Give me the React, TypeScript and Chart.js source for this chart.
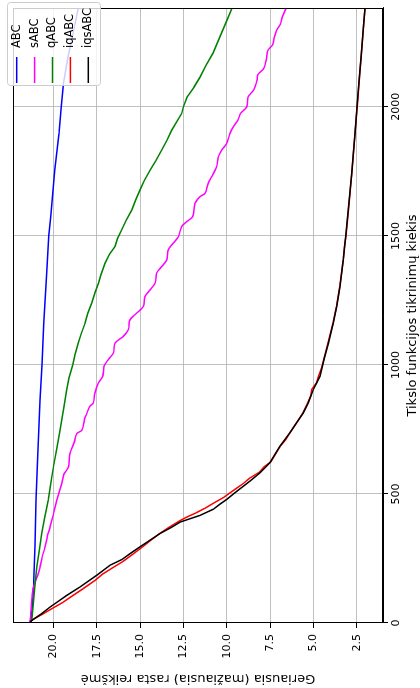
import React, { useEffect, useRef } from "react";
import { Chart, registerables } from "chart.js";

Chart.register(...registerables);

const FONT = "DejaVu Sans";

const seriesLabels = ["ABC", "sABC", "qABC", "iqABC", "iqsABC"];
const seriesColors = ["#0000ff", "#ff00ff", "#008000", "#ff0000", "#000000"];

const xTicks = [0, 500, 1000, 1500, 2000];
const yTicks = [2.5, 5, 7.5, 10, 12.5, 15, 17.5, 20];
const xLabel = "Tikslo funkcijos tikrinimų kiekis";
const yLabel = "Geriausia (mažiausia) rasta reikšmė";

const abcEvals = [0, 20, 60, 138, 300, 476, 650, 863, 1000, 1162, 1343, 1500, 1575, 1755, 1897, 2000, 2092, 2193, 2286, 2383];
const abcValues = [21.36, 21.28, 21.22, 21.15, 21.06, 21.0, 20.9, 20.77, 20.65, 20.55, 20.4, 20.27, 20.15, 19.92, 19.68, 19.55, 19.42, 19.15, 18.86, 18.57];

const sabcEvals = [0, 40, 88, 140, 191, 217, 255, 295, 335, 372, 420, 476, 540, 575, 605, 657, 700, 734, 747, 790, 812, 840, 853, 892, 930, 956, 995, 1021, 1046, 1085, 1111, 1137, 1175, 1201, 1227, 1265, 1291, 1317, 1356, 1381, 1407, 1446, 1472, 1497, 1536, 1555, 1575, 1626, 1652, 1665, 1704, 1729, 1768, 1807, 1832, 1858, 1897, 1923, 1948, 1975, 2000, 2039, 2065, 2103, 2125, 2150, 2181, 2219, 2240, 2270, 2297, 2320, 2350, 2383];
const sabcValues = [21.36, 21.3, 21.25, 21.15, 20.87, 20.77, 20.65, 20.48, 20.35, 20.19, 20.0, 19.8, 19.52, 19.4, 19.13, 19.04, 18.8, 18.65, 18.36, 18.2, 18.07, 17.9, 17.69, 17.6, 17.4, 17.15, 17.08, 16.83, 16.54, 16.44, 15.96, 15.67, 15.58, 15.19, 14.81, 14.71, 14.42, 14.13, 14.04, 13.75, 13.46, 13.37, 13.08, 12.79, 12.6, 12.31, 11.96, 11.83, 11.54, 11.25, 11.06, 10.87, 10.58, 10.48, 10.29, 10.0, 9.81, 9.62, 9.35, 9.2, 8.84, 8.76, 8.45, 8.25, 8.2, 7.85, 7.72, 7.62, 7.35, 7.25, 7.12, 6.9, 6.78, 6.57];

const qabcEvals = [0, 10, 61, 138, 216, 280, 348, 410, 476, 540, 604, 670, 735, 827, 905, 950, 1000, 1040, 1085, 1120, 1162, 1200, 1240, 1280, 1317, 1350, 1394, 1430, 1459, 1490, 1523, 1560, 1600, 1640, 1678, 1715, 1755, 1790, 1832, 1870, 1910, 1940, 1974, 2000, 2037, 2075, 2115, 2160, 2208, 2270, 2336, 2383];
const qabcValues = [21.36, 21.25, 21.18, 21.08, 20.96, 20.82, 20.67, 20.5, 20.29, 20.15, 20.0, 19.82, 19.65, 19.42, 19.23, 19.1, 18.88, 18.75, 18.56, 18.4, 18.17, 18.02, 17.79, 17.6, 17.4, 17.25, 17.02, 16.75, 16.44, 16.3, 16.06, 15.8, 15.48, 15.25, 15.0, 14.75, 14.42, 14.1, 13.75, 13.45, 13.17, 12.9, 12.6, 12.5, 12.29, 11.9, 11.54, 11.2, 10.79, 10.4, 9.98, 9.69];

const iqabcEvals = [0, 12, 35, 59, 80, 101, 130, 165, 190, 211, 240, 265, 295, 320, 350, 370, 396, 412, 428, 445, 464, 486, 518, 540, 560, 585, 605, 625, 655, 686, 710, 737, 776, 814, 853, 880, 905, 930, 956, 990, 1021, 1085, 1162, 1227, 1304, 1407, 1460, 1500, 1601, 1742, 1897, 2000, 2100, 2200, 2300, 2383];
const iqabcValues = [21.36, 21.22, 20.6, 20.0, 19.45, 19.0, 18.35, 17.6, 17.15, 16.65, 15.95, 15.45, 14.85, 14.4, 13.8, 13.35, 12.72, 12.25, 11.73, 11.25, 10.77, 10.19, 9.52, 9.05, 8.7, 8.1, 7.85, 7.45, 7.18, 6.9, 6.6, 6.35, 5.97, 5.6, 5.33, 5.15, 5.1, 4.82, 4.7, 4.52, 4.4, 4.16, 3.87, 3.66, 3.47, 3.28, 3.2, 3.12, 2.97, 2.78, 2.59, 2.47, 2.35, 2.23, 2.12, 2.02];

const iqsabcEvals = [0, 10, 35, 62, 85, 107, 140, 185, 224, 246, 270, 295, 320, 347, 370, 391, 417, 441, 460, 479, 505, 550, 582, 621, 655, 686, 737, 776, 814, 853, 905, 956, 1021, 1085, 1162, 1227, 1304, 1407, 1500, 1601, 1742, 1897, 2000, 2100, 2200, 2300, 2383];
const iqsabcValues = [21.36, 21.25, 20.7, 20.19, 19.7, 19.23, 18.46, 17.5, 16.73, 16.05, 15.55, 15.0, 14.45, 13.84, 13.2, 12.69, 11.54, 10.77, 10.4, 10.0, 9.52, 8.65, 8.08, 7.5, 7.2, 6.92, 6.35, 5.96, 5.58, 5.29, 5.0, 4.62, 4.38, 4.13, 3.85, 3.65, 3.46, 3.27, 3.13, 2.98, 2.79, 2.6, 2.48, 2.36, 2.24, 2.12, 2.02];

const seriesEvals = [abcEvals, sabcEvals, qabcEvals, iqabcEvals, iqsabcEvals];
const seriesValues = [abcValues, sabcValues, qabcValues, iqabcValues, iqsabcValues];

const X_MAX = 2383;
const Y_MIN = 0.98;
const Y_MAX = 22.33;

const framePlugin = {
  id: "frame",
  afterDatasetsDraw(chart: any) {
    const { ctx, chartArea } = chart;
    ctx.save();
    ctx.strokeStyle = "#000";
    ctx.lineWidth = 1;
    ctx.strokeRect(
      Math.round(chartArea.left) + 0.5,
      Math.round(chartArea.top) + 0.5,
      Math.round(chartArea.right - chartArea.left) - 1,
      Math.round(chartArea.bottom - chartArea.top) - 1
    );
    ctx.restore();
  },
};

const legendPlugin = {
  id: "boxLegend",
  afterDraw(chart: any) {
    const { ctx, chartArea } = chart;
    ctx.save();
    const x0 = chartArea.right - 78;
    const y0 = chartArea.top - 6;
    const w = 83;
    const h = 93;
    ctx.beginPath();
    ctx.roundRect(x0 + 0.5, y0 + 0.5, w, h, 3);
    ctx.fillStyle = "rgba(255,255,255,0.8)";
    ctx.fill();
    ctx.strokeStyle = "#cccccc";
    ctx.lineWidth = 1;
    ctx.stroke();
    chart.data.datasets.forEach((ds: any, i: number) => {
      const y = y0 + 9.7 + i * 17.9;
      ctx.strokeStyle = ds.borderColor;
      ctx.lineWidth = 1.5;
      ctx.beginPath();
      ctx.moveTo(x0 + 3, y);
      ctx.lineTo(x0 + 29, y);
      ctx.stroke();
      ctx.fillStyle = "#000";
      ctx.font = `11.5px "${FONT}"`;
      ctx.textBaseline = "middle";
      ctx.textAlign = "left";
      ctx.fillText(ds.label, x0 + 38, y);
    });
    ctx.restore();
  },
};

export default function App() {
  const canvasRef = useRef<HTMLCanvasElement | null>(null);

  useEffect(() => {
    const canvas = canvasRef.current;
    if (!canvas) return;
    const datasets = seriesLabels.map((label, i) => ({
      label,
      data: seriesEvals[i].map((e, j) => ({ x: e, y: seriesValues[i][j] })),
      borderColor: seriesColors[i],
      backgroundColor: seriesColors[i],
      borderWidth: 1.5,
      pointRadius: 0,
      showLine: true,
      fill: false,
      order: seriesLabels.length - i,
      tension: i === 1 ? 0.3 : 0,
    }));
    const chart = new Chart(canvas, {
      type: "scatter",
      data: { datasets },
      options: {
        responsive: false,
        animation: false,
        events: [],
        layout: { autoPadding: false, padding: { left: 0, right: 8, top: 13, bottom: 0 } },
        plugins: { legend: { display: false }, tooltip: { enabled: false } },
        scales: {
          x: {
            type: "linear",
            position: "bottom",
            min: 0,
            max: X_MAX,
            afterBuildTicks: (s: any) => {
              s.ticks = xTicks.map((v) => ({ value: v }));
            },
            afterFit: (s: any) => {
              s.height = 37;
            },
            ticks: {
              font: { family: FONT, size: 11 },
              color: "#000",
              padding: 2,
              maxRotation: 0,
              minRotation: 0,
              callback: (v: any) => String(v),
            },
            grid: { color: "#b0b0b0", lineWidth: 0.8, tickLength: 5, tickColor: "#000", tickWidth: 1 },
            border: { display: true, color: "#000", width: 1 },
            title: {
              display: true,
              text: xLabel,
              font: { family: FONT, size: 13 },
              color: "#000",
              padding: { top: 0, bottom: 0 },
            },
          },
          y: {
            type: "linear",
            position: "left",
            min: Y_MIN,
            max: Y_MAX,
            afterBuildTicks: (s: any) => {
              s.ticks = yTicks.map((v) => ({ value: v }));
            },
            afterFit: (s: any) => {
              s.width = 65;
            },
            ticks: {
              font: { family: FONT, size: 11 },
              color: "#000",
              padding: 6,
              callback: (v: any) => Number(v).toFixed(1),
            },
            grid: { color: "#b0b0b0", lineWidth: 0.8, tickLength: 5, tickColor: "#000", tickWidth: 1 },
            border: { display: true, color: "#000", width: 1 },
            title: {
              display: true,
              text: yLabel,
              font: { family: FONT, size: 13 },
              color: "#000",
              padding: { top: 2, bottom: 0 },
            },
          },
        },
      },
      plugins: [framePlugin, legendPlugin],
    } as any);
    return () => chart.destroy();
  }, []);

  return (
    <div
      style={{
        position: "fixed",
        top: 0,
        left: 0,
        width: 688,
        height: 420,
        transformOrigin: "0 0",
        transform: "translateY(688px) rotate(-90deg)",
        background: "#fff",
      }}
    >
      <canvas ref={canvasRef} width={688} height={420} style={{ display: "block", width: 688, height: 420 }} />
    </div>
  );
}
